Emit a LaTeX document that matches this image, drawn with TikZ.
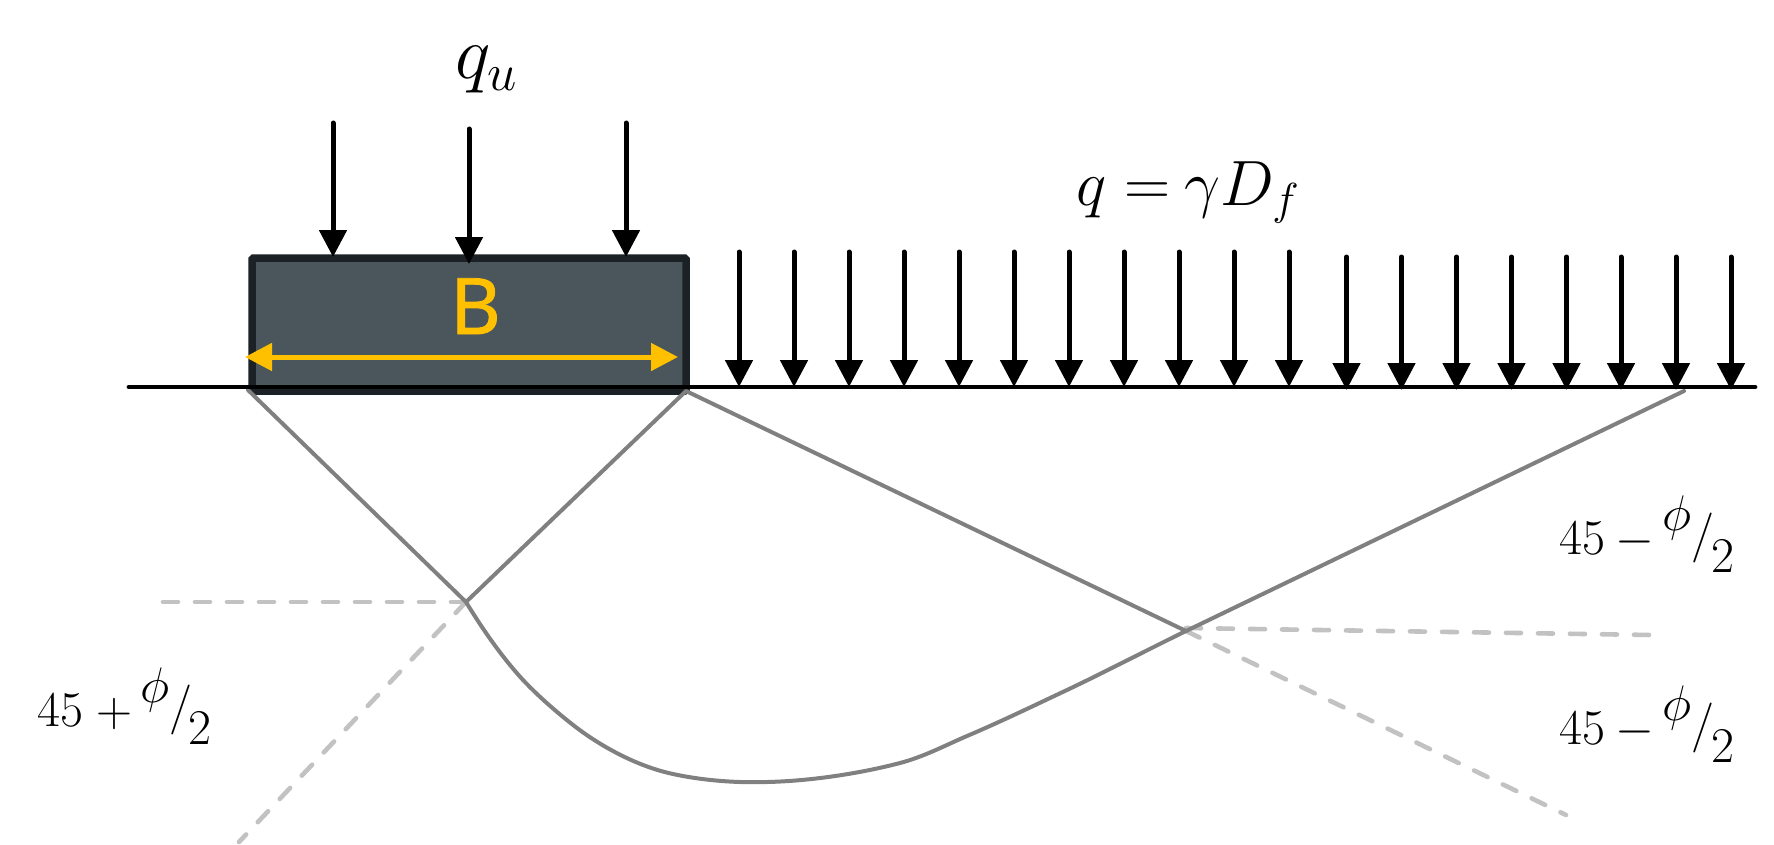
\RequirePackage{fix-cm}
\documentclass[tikz,border=0pt]{standalone}
\usepackage{fontspec}
\newfontfamily\labelfont[FakeBold=1]{Noto Sans}
\usetikzlibrary{arrows.meta}
\definecolor{footfill}{HTML}{4A565C}
\definecolor{footline}{HTML}{1B2124}
\definecolor{dimyellow}{HTML}{FFC000}
\definecolor{slip}{HTML}{808080}
\definecolor{guide}{HTML}{C2C2C2}
\newcommand{\anglelabel}[3]{\fontsize{50}{56}\selectfont$45\kern#3{#1}\kern#2\raisebox{24pt}{\fontsize{50}{54}\selectfont$\phi$}\kern0pt\raisebox{4pt}{$/$}\kern-3pt\raisebox{-18pt}{$2$}$}
\tikzset{
  x=1pt,y=-1pt,
  load/.style={line width=5pt,line cap=round,-{Triangle[length=27pt,width=27pt]},black},
  slipline/.style={line width=4pt,slip,line cap=round,line join=round},
  guideline/.style={line width=4.6pt,guide,line cap=round,dash pattern=on 15pt off 17pt},
  txt/.style={inner sep=0pt,anchor=base west},
}
\begin{document}
\begin{tikzpicture}
\useasboundingbox (0,0) rectangle (1774,845);
\node[draw=footline,fill=footfill,line width=7.5pt,rounded corners=1.5pt,minimum width=434pt,minimum height=133pt,inner sep=0pt] (foot) at (469,324.5) {};
\node[inner sep=0pt,anchor=base,text=dimyellow,font=\labelfont\fontsize{78}{80}\selectfont] (blabel) at (475.5,334) {B};
\coordinate (bl) at (245,357); \coordinate (br) at (678,357);
\draw[line width=5pt,dimyellow,{Triangle[length=27pt,width=27pt]}-{Triangle[length=27pt,width=27pt]}] (bl) -- (br);
% slip surfaces
\coordinate (fl) at (248,390); \coordinate (fr) at (686,391);
\coordinate (j1) at (466,602); \coordinate (j2) at (1186,631); \coordinate (pe) at (1684,391);
\coordinate (g1) at (161,602); \coordinate (g2) at (239,842); \coordinate (g3) at (1651,635); \coordinate (g4) at (1566,815); \coordinate (j3) at (1186,628);
\draw[guideline] (j1) -- (g1);
\draw[guideline] (j1) -- (g2);
\draw[guideline] (j3) -- (g3);
\draw[guideline] (j2) -- (g4);
\draw[slipline] (fl) -- (j1) -- (fr) -- (j2) -- (pe);
\draw[slipline] (j1) .. controls (480,625) and (500,655) .. (523,680)
  .. controls (540,698) and (560,715) .. (577,728)
  .. controls (605,749) and (640,767) .. (673,774)
  .. controls (705,781) and (740,783) .. (767,782)
  .. controls (812,781) and (862,773) .. (900,763)
  .. controls (924,756.7) and (946,745) .. (967,736)
  .. controls (1000,722) and (1033,706) .. (1067,690)
  .. controls (1105,672) and (1145,651) .. (j2);
% ground
\coordinate (g0) at (129,387); \coordinate (ge) at (1755,387);
\draw[line width=4.8pt,line cap=round] (g0) -- (ge);
% loads
\foreach \n/\px/\pt/\pb in {fa/333/123/257,fb/469/129/264,fc/626/123/257,
  a1/739/252/387,a2/794/252/387,a3/849/252/387,a4/904/252/387,a5/959/252/387,a6/1014/252/387,a7/1069/252/387,a8/1124/252/387,a9/1179/252/387,a10/1234/252/387,a11/1289/252/387,
  b1/1346.5/257/390,b2/1401.5/257/390,b3/1456.5/257/390,b4/1511.5/257/390,b5/1566.5/257/390,b6/1621/257/390,b7/1676/257/390,b8/1731/257/390}{
  \coordinate (\n s) at (\px,\pt);
  \coordinate (\n e) at (\px,\pb);
  \draw[load] (\n s) -- (\n e);
}
% labels
\node[txt,font=\fontsize{75}{80}\selectfont] (qu) at (455,79) {$q_u$};
\node[txt,font=\fontsize{64}{72}\selectfont] (qs) at (1076,205) {$q\mkern5mu{=}\mkern4mu\gamma D_f$};
\node[txt] (al) at (37,726) {\anglelabel{+}{8pt}{13pt}};
\node[txt] (ar) at (1559,554) {\anglelabel{-}{9pt}{10pt}};
\node[txt] (ar2) at (1559,744) {\anglelabel{-}{9pt}{10pt}};
\end{tikzpicture}
\end{document}
